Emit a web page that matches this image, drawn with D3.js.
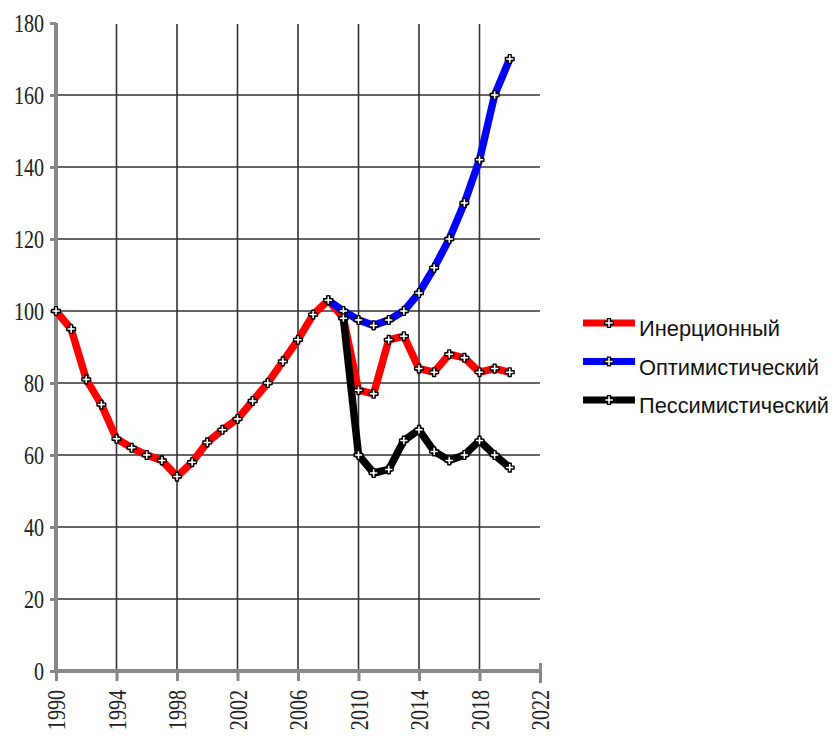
<!DOCTYPE html>
<html><head><meta charset="utf-8">
<script src="https://cdn.jsdelivr.net/npm/d3@7"></script>
<style>body{margin:0;background:#fff}</style>
</head><body>
<svg id="c" width="835" height="736"></svg>
<script>
const years = d3.range(1990, 2021);
const inertial = [100,95,81,74,64.5,62,60,58.5,54,58,63.5,67,70,75,80,86,92,99,103,98,78,77,92,93,84,83,88,87,83,84,83];
const optYears = d3.range(2008, 2021);
const optimistic = [103,100,97.5,96,97.5,100,105,112,120,130,142,160,170];
const pesYears = d3.range(2009, 2021);
const pessimistic = [98,60,55,56,64,67,61,58.5,60,64,60,56.5];
const seriesNames = ["Инерционный","Оптимистический","Пессимистический"];
const seriesColors = ["#ff0000","#0000ff","#000000"];
const xTicks = d3.range(1990, 2023, 4);
const yTicks = d3.range(0, 181, 20);

const svg = d3.select("#c");
const x = d3.scaleLinear().domain([1990, 2022]).range([56, 540]);
const y = d3.scaleLinear().domain([0, 180]).range([671, 23]);

// grid
svg.append("g").selectAll("line").data(yTicks.filter(v => v > 0 && v < 180)).join("line")
  .attr("x1", x(1990)).attr("x2", x(2022)).attr("y1", d => y(d)).attr("y2", d => y(d))
  .attr("stroke", "#333").attr("stroke-width", 1.6);
svg.append("g").selectAll("line").data(xTicks.filter(v => v > 1990 && v < 2022)).join("line")
  .attr("x1", d => x(d)).attr("x2", d => x(d)).attr("y1", y(180) + 1).attr("y2", y(0))
  .attr("stroke", "#333").attr("stroke-width", 1.6);

// axes
const yAxis = svg.append("g").attr("transform", `translate(${x(1990)},0)`)
  .call(d3.axisLeft(y).tickValues(yTicks).tickSize(6).tickFormat(d3.format("d")));
const xAxis = svg.append("g").attr("transform", `translate(0,${y(0)})`)
  .call(d3.axisBottom(x).tickValues(xTicks).tickSize(10).tickFormat(d3.format("d")));
[yAxis, xAxis].forEach(a => {
  a.select(".domain").attr("stroke", "#888").attr("stroke-width", 4);
  a.selectAll(".tick line").attr("stroke", "#888").attr("stroke-width", 3);
  a.selectAll("text").attr("font-family", "Liberation Serif, serif").attr("font-size", 24.5).attr("fill", "#222");
});
yAxis.select(".domain").attr("d", `M0,${y(0)}V${y(180)}`);
xAxis.select(".domain").attr("d", `M${x(1990)},0H${x(2022)}`);
yAxis.selectAll(".tick text").attr("x", 0).attr("dy", 0)
  .attr("transform", "translate(-12,8.5) scale(0.82,1)");
xAxis.selectAll(".tick line").attr("y1", 0);
xAxis.select(".tick:last-of-type line").attr("y1", -8).attr("y2", 12);
xAxis.selectAll(".tick text").attr("text-anchor", "end").attr("x", 0).attr("y", 0).attr("dy", 0)
  .attr("transform", "translate(8.5,19) rotate(-90) scale(0.82,1)");

// lines
const line = d3.line().x(d => x(d[0])).y(d => y(d[1]));
const data = [
  d3.zip(years, inertial),
  d3.zip(optYears, optimistic),
  d3.zip(pesYears, pessimistic)
];
data.forEach((pts, i) => {
  svg.append("path").datum(pts).attr("d", line).attr("fill", "none")
    .attr("stroke", seriesColors[i]).attr("stroke-width", 7.5)
    .attr("stroke-linejoin", "round").attr("stroke-linecap", "butt");
});
const sym = d3.symbol().type(d3.symbolCross).size(42);
data.forEach(pts => {
  svg.append("g").selectAll("path").data(pts).join("path")
    .attr("d", sym).attr("transform", d => `translate(${x(d[0])},${y(d[1])})`)
    .attr("fill", "#fff").attr("stroke", "#000").attr("stroke-width", 1.4)
    .attr("stroke-linejoin", "round");
});

// legend
const lg = svg.append("g");
const widths = [141, 180, 190];
seriesNames.forEach((n, i) => {
  const yy = 323 + i * 38.5;
  lg.append("line").attr("x1", 583).attr("x2", 635).attr("y1", yy).attr("y2", yy)
    .attr("stroke", seriesColors[i]).attr("stroke-width", 7);
  lg.append("path").attr("d", sym).attr("transform", `translate(609,${yy})`)
    .attr("fill", "#fff").attr("stroke", "#000").attr("stroke-width", 1.4);
  lg.append("text").attr("x", 639).attr("y", yy + 13).text(n)
    .attr("font-family", "Liberation Sans, Arial, sans-serif").attr("font-size", 21.5)
    .attr("fill", "#111").attr("textLength", widths[i]).attr("lengthAdjust", "spacingAndGlyphs");
});
</script>
</body></html>
